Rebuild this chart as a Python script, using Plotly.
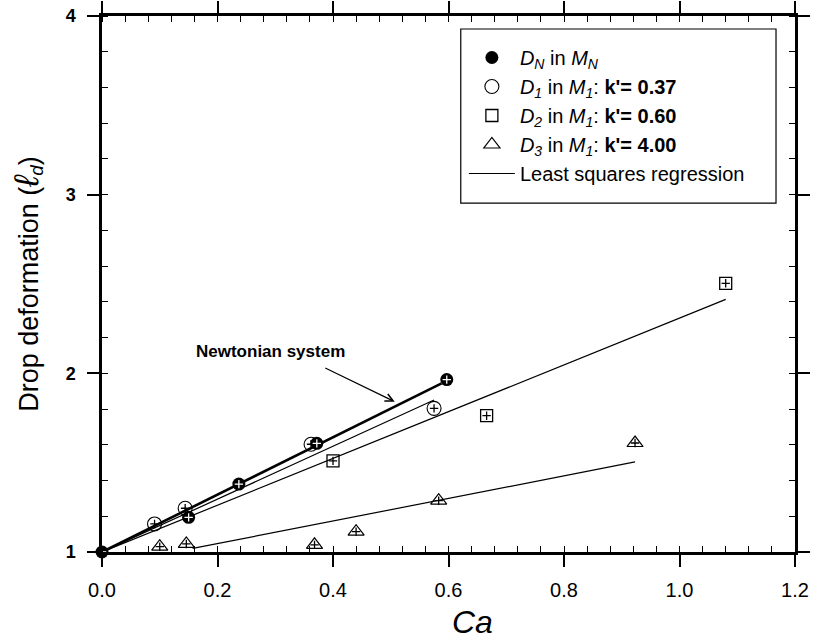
import plotly.graph_objects as go

# ---------------- data ----------------
dn_ca = [0.0, 0.150, 0.237, 0.372, 0.597]
dn_ld = [1.0, 1.194, 1.380, 1.608, 1.965]

d1_ca = [0.091, 0.144, 0.362, 0.575]
d1_ld = [1.157, 1.245, 1.603, 1.804]

d2_ca = [0.400, 0.666, 1.080]
d2_ld = [1.510, 1.763, 2.504]

d3_ca = [0.100, 0.146, 0.368, 0.440, 0.583, 0.923]
d3_ld = [1.030, 1.045, 1.040, 1.114, 1.287, 1.610]

# least squares regression lines (end points)
fit_dn_ca = [0.0, 0.588]
fit_dn_ld = [1.0, 1.944]
fit_d1_ca = [0.0, 0.575]
fit_d1_ld = [1.0, 1.851]
fit_d2_ca = [0.0, 1.080]
fit_d2_ld = [1.0, 2.414]
fit_d3_ca = [0.157, 0.923]
fit_d3_ld = [1.020, 1.504]

names = [
    "<i>D<sub>N</sub></i> in <i>M<sub>N</sub></i>",
    "<i>D<sub>1</sub></i> in <i>M<sub>1</sub></i>: <b>k'= 0.37</b>",
    "<i>D<sub>2</sub></i> in <i>M<sub>1</sub></i>: <b>k'= 0.60</b>",
    "<i>D<sub>3</sub></i> in <i>M<sub>1</sub></i>: <b>k'= 4.00</b>",
    "Least squares regression",
]

x_ticks = [0.0, 0.2, 0.4, 0.6, 0.8, 1.0, 1.2]
y_ticks = [1, 2, 3, 4]

FONT = "Arial, 'Liberation Sans', Helvetica, sans-serif"

fig = go.Figure()

# regression lines
fig.add_trace(go.Scatter(x=fit_dn_ca, y=fit_dn_ld, mode="lines",
                         line=dict(color="black", width=2.6), showlegend=False))
fig.add_trace(go.Scatter(x=fit_d1_ca, y=fit_d1_ld, mode="lines",
                         line=dict(color="black", width=1.2), showlegend=False))
fig.add_trace(go.Scatter(x=fit_d2_ca, y=fit_d2_ld, mode="lines", name=names[4],
                         line=dict(color="black", width=1.2), showlegend=True,
                         legendrank=5))
fig.add_trace(go.Scatter(x=fit_d3_ca, y=fit_d3_ld, mode="lines",
                         line=dict(color="black", width=1.2), showlegend=False))

# markers
fig.add_trace(go.Scatter(x=d1_ca, y=d1_ld, mode="markers", name=names[1], legendrank=2,
                         marker=dict(symbol="circle-open", size=14, color="black",
                                     line=dict(width=1.1, color="black"))))
fig.add_trace(go.Scatter(x=d2_ca, y=d2_ld, mode="markers", name=names[2], legendrank=3,
                         marker=dict(symbol="square-open", size=12, color="black",
                                     line=dict(width=1.3, color="black"))))
fig.add_trace(go.Scatter(x=d3_ca, y=d3_ld, mode="markers", name=names[3], legendrank=4,
                         marker=dict(symbol="triangle-up-open", size=14, color="black",
                                     line=dict(width=1.2, color="black"))))
fig.add_trace(go.Scatter(x=dn_ca, y=dn_ld, mode="markers", name=names[0], legendrank=1,
                         cliponaxis=False,
                         marker=dict(symbol="circle", size=13, color="black",
                                     line=dict(width=0))))

# small crosses inside the markers
for xs, ys, col in [(d1_ca, d1_ld, "black"), (d2_ca, d2_ld, "black"),
                    (d3_ca, d3_ld, "black"), (dn_ca, dn_ld, "white")]:
    fig.add_trace(go.Scatter(x=xs, y=ys, mode="markers", showlegend=False,
                             hoverinfo="skip", cliponaxis=False,
                             marker=dict(symbol="cross-thin-open", size=6, color=col,
                                         line=dict(width=1.3, color=col))))

axis_common = dict(
    showline=True, linecolor="black", linewidth=2.5, mirror="allticks",
    ticks="outside", ticklen=12, tickwidth=1.5, tickcolor="black",
    showgrid=False, zeroline=False, automargin=False,
)

fig.update_xaxes(
    range=[0, 1.2], tickvals=x_ticks, tickformat=".1f",
    tickfont=dict(family=FONT, size=20, color="black"),
    ticklabelstandoff=6,
    minor=dict(dtick=0.04, tick0=0, ticks="inside", ticklen=6, tickwidth=1.2,
               tickcolor="black", showgrid=False),
    **axis_common,
)
fig.update_yaxes(
    range=[1, 4], tickvals=y_ticks,
    tickfont=dict(family=FONT, size=18, color="black", weight="bold"),
    ticklabelstandoff=8,
    minor=dict(dtick=0.2, tick0=1, ticks="inside", ticklen=6, tickwidth=1.2,
               tickcolor="black", showgrid=False),
    title=dict(text="Drop deformation (<i><span style='font-size:34px'>ℓ</span><sub>d</sub></i>)",
               font=dict(family=FONT, size=27, color="black"), standoff=20),
    **axis_common,
)

# x-axis title
fig.add_annotation(
    x=0.535, y=-0.131, xref="paper", yref="paper", xanchor="center", yanchor="middle",
    text="<i>Ca</i>", showarrow=False, font=dict(family=FONT, size=32, color="black"),
)

fig.add_annotation(
    x=0.507, y=1.841, ax=0.384, ay=2.034, xref="x", yref="y", axref="x", ayref="y",
    text="", showarrow=True, arrowhead=5, arrowsize=1.3, arrowwidth=1.2,
    arrowcolor="black",
)
fig.add_annotation(
    x=0.292, y=2.125, xref="x", yref="y", text="<b>Newtonian system</b>",
    showarrow=False, font=dict(family=FONT, size=17, color="black"),
)

# legend frame
fig.add_shape(type="rect", xref="paper", yref="paper",
              x0=0.5177, x1=0.9726, y0=0.651, y1=0.9757,
              line=dict(color="black", width=1.2), fillcolor="white", layer="below")

fig.update_layout(
    width=813, height=639,
    margin=dict(l=102, r=18, t=16, b=87),
    paper_bgcolor="white", plot_bgcolor="white",
    font=dict(family=FONT, color="black"),
    legend=dict(
        x=0.5222, y=0.959, xanchor="left", yanchor="top",
        bgcolor="rgba(0,0,0,0)", borderwidth=0, itemwidth=46,
        font=dict(family=FONT, size=20, color="black"),
        traceorder="normal", tracegroupgap=0,
    ),
)

fig.write_html("out.html")
